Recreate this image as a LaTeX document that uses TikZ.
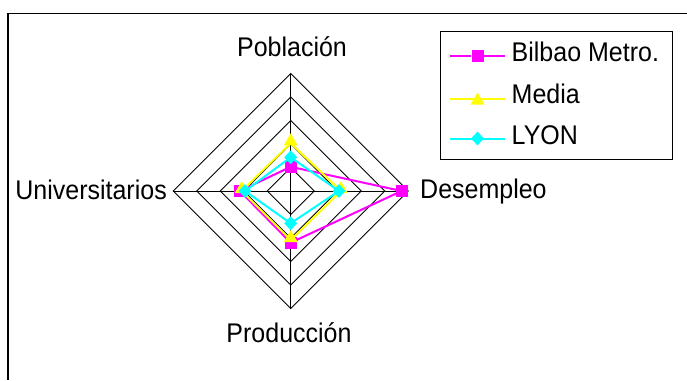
\documentclass[tikz,border=0pt]{standalone}
\usepackage{fontspec}
\setmainfont{Liberation Sans}
\usetikzlibrary{shapes.geometric}
\definecolor{magc}{RGB}{255,0,255}
\definecolor{yelc}{RGB}{255,255,0}
\definecolor{cyac}{RGB}{0,255,255}
\newcommand{\tallt}[1]{\scalebox{1}[1.08]{#1}}
\begin{document}
\begin{tikzpicture}[x=1pt,y=-1pt,
  lbl/.style={font=\fontsize{25}{30}\selectfont, inner sep=0pt, text=black},
  gridline/.style={draw=black, line width=0.8},
  magline/.style={draw=magc, line width=2},
  yelline/.style={draw=yelc, line width=2},
  cyaline/.style={draw=cyac, line width=2},
  legline/.style={line width=2},
  sqmark/.style={rectangle, fill=magc, minimum size=12, inner sep=0pt},
  trimark/.style={regular polygon, regular polygon sides=3, fill=yelc, minimum size=16, inner sep=0pt},
  diamark/.style={diamond, fill=cyac, minimum width=13, minimum height=14, inner sep=0pt}]
\useasboundingbox (0,0) rectangle (687,380);
\fill[white] (0,0) rectangle (687,380);
% outer frame
\draw[black, line width=1.5] (8,380) -- (8,13.5) -- (687,13.5);
% radar grid
\coordinate (C) at (290.7,191);
\foreach \k in {1,...,5}
  \draw[gridline] (290.7,{191-23.5*\k}) -- ({290.7+23.5*\k},191) -- (290.7,{191+23.5*\k}) -- ({290.7-23.5*\k},191) -- cycle;
\coordinate (aP) at (290.7,73.5);
\coordinate (aPr) at (290.7,308.5);
\coordinate (aU) at (173.2,191);
\coordinate (aD) at (408.2,191);
\draw[gridline] (aP) -- (aPr);
\draw[gridline] (aU) -- (aD);
% axis labels
\node[lbl, anchor=base] (lP) at (292,56.7) {\tallt{Población}};
\node[lbl, anchor=base] (lPr) at (289,342) {\tallt{Producción}};
\node[lbl, anchor=base east] (lU) at (167,199) {\tallt{Universitarios}};
\node[lbl, anchor=base west] (lD) at (420,198.5) {\tallt{Desempleo}};
% Bilbao Metro.
\coordinate (b1) at (290.7,166.8);
\coordinate (b2) at (401.6,191);
\coordinate (b3) at (290.7,242.7);
\coordinate (b4) at (239.9,191);
\draw[magline] (b1) -- (b2) -- (b3) -- (b4) -- cycle;
\foreach \p in {b1,b2,b3,b4} \node[sqmark] at (\p) {};
% Media
\coordinate (m1) at (290.7,143.3);
\coordinate (m2) at (341,191);
\coordinate (m3) at (290.7,240);
\coordinate (m4) at (241.7,191);
\draw[yelline] (m1) -- (m2) -- (m3) -- (m4) -- cycle;
\foreach \p in {m1,m2,m3,m4} \node[trimark] at ([yshift=2]\p) {};
% LYON
\coordinate (l1) at (290.7,157.3);
\coordinate (l2) at (339,191);
\coordinate (l3) at (290.7,223.3);
\coordinate (l4) at (245,191);
\draw[cyaline] (l1) -- (l2) -- (l3) -- (l4) -- cycle;
\foreach \p in {l1,l2,l3,l4} \node[diamark] at (\p) {};
% legend
\draw[black, line width=0.8] (440.7,31.7) rectangle (672.3,159);
\node[sqmark] (k1) at (477.5,55.5) {};
\node[trimark] (k2) at (477.5,100.5) {};
\node[diamark] (k3) at (477.5,138.5) {};
\coordinate (g1a) at (450,55.5); \coordinate (g1b) at (505,55.5);
\coordinate (g2a) at (450,98.5); \coordinate (g2b) at (505,98.5);
\coordinate (g3a) at (450,138.5); \coordinate (g3b) at (505,138.5);
\draw[legline, magc] (g1a) -- (k1.west) (k1.east) -- (g1b);
\draw[legline, yelc] (g2a) -- (g2b);
\draw[legline, cyac] (g3a) -- (g3b);
\node[lbl, anchor=base west] (t1) at (511.5,61.7) {\tallt{Bilbao Metro.}};
\node[lbl, anchor=base west] (t2) at (511.5,103.3) {\tallt{Media}};
\node[lbl, anchor=base west] (t3) at (511.5,144) {\tallt{LYON}};
\end{tikzpicture}
\end{document}
